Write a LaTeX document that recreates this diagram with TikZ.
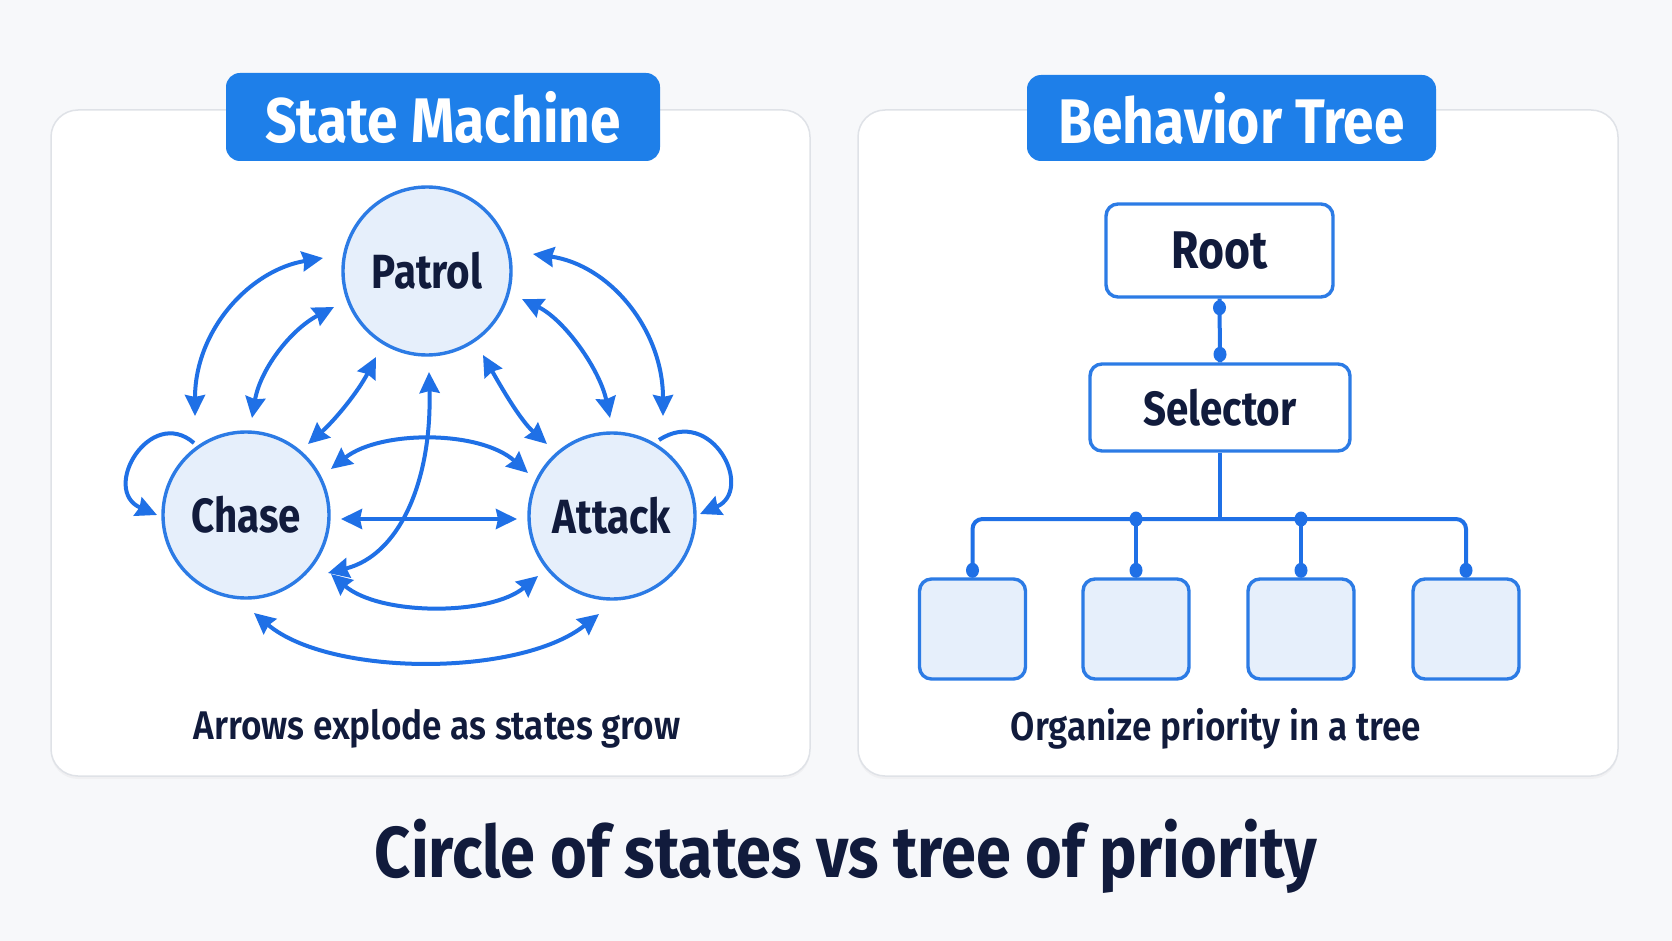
\documentclass[tikz,border=0pt]{standalone}
\usepackage{fontspec}
\setmainfont[FakeStretch=0.84]{Fira Sans}
\newfontfamily\widefont[FakeStretch=0.875]{Fira Sans}
\newfontfamily\medfont[FakeStretch=0.88]{Fira Sans SemiBold}
\usetikzlibrary{arrows.meta,shadows,calc,shapes.geometric}
\definecolor{bgc}{HTML}{F7F8FA}
\definecolor{tabblue}{HTML}{1E7FE9}
\definecolor{lineblue}{HTML}{1F70E6}
\definecolor{edgeblue}{HTML}{2C7BE5}
\definecolor{nodefill}{HTML}{E6EFFB}
\definecolor{navy}{HTML}{111B3C}
\definecolor{panelline}{HTML}{DFE2E7}
\tikzset{
  panel/.style={draw=panelline, line width=1.5pt, fill=white, rounded corners=27pt,
    drop shadow={shadow xshift=0pt, shadow yshift=-3pt, opacity=0.06}},
  tabbox/.style={fill=tabblue, rounded corners=14pt, text=white, inner sep=0pt,
    font=\widefont\bfseries\fontsize{63}{70}\selectfont},
  state/.style={circle, draw=edgeblue, line width=3.4pt, fill=nodefill, minimum size=166pt,
    inner sep=0pt, text=navy, font=\bfseries\fontsize{48}{56}\selectfont},
  btbox/.style={draw=edgeblue, line width=3.4pt, fill=white, rounded corners=12pt, inner sep=0pt,
    text=navy, font=\bfseries\fontsize{50}{58}\selectfont},
  leaf/.style={btbox, fill=nodefill, minimum width=106pt, minimum height=100pt},
  conn/.style={lineblue, line width=4pt},
  tip/.style={},
  arr/.style={conn, {Stealth[length=21pt,width=20pt,inset=2pt]}-{Stealth[length=21pt,width=20pt,inset=2pt]}},
  loop/.style={conn, -{Stealth[length=21pt,width=20pt,inset=2pt]}},
  dotnode/.style={ellipse, fill=lineblue, minimum width=13pt, minimum height=15pt, inner sep=0pt},
  caption/.style={text=navy, font=\medfont\fontsize{40}{48}\selectfont},
}
\begin{document}
\begin{tikzpicture}[x=1pt,y=-1pt]
\useasboundingbox (0,0) rectangle (1672,941);
\fill[bgc] (0,0) rectangle (1672,941);

% panels
\draw[panel] (51,110) rectangle (810,776);
\draw[panel] (858,110) rectangle (1618,776);

% tabs
\node[tabbox, minimum width=434pt, minimum height=88pt] (tabL) at (443,117) {State Machine};
\node[tabbox, minimum width=409pt, minimum height=86pt] (tabR) at (1231.5,118) {Behavior Tree};

% states
\node[state, minimum size=168pt] (patrol) at (427,271) {Patrol};
\node[state] (chase) at (246,515) {Chase};
\node[state] (attack) at (612,516) {Attack};

% arrows
\draw[arr] ($(chase)+(-51,-99)$) .. controls (195,330) and (250,270) .. ($(patrol)+(-104,-13)$);
\draw[arr] ($(chase)+(6,-97)$) .. controls (260,370) and (290,330) .. ($(patrol)+(-93,36)$);
\draw[arr] ($(chase)+(62,-71)$) .. controls (335,420) and (358,392) .. ($(patrol)+(-51,86)$);
\draw[arr] ($(patrol)+(2,101)$) .. controls (432,480) and (400,555) .. ($(chase)+(82,58)$);
\draw[arr] ($(chase)+(85,-46)$) .. controls (380,430) and (480,430) .. ($(attack)+(-84,-43)$);
\draw[arr] ($(chase)+(95,4)$) -- ($(attack)+(-95,3)$);
\draw[arr] ($(chase)+(85,59)$) .. controls (380,616) and (490,616) .. ($(attack)+(-74,60)$);
\draw[arr] ($(chase)+(8,98)$) .. controls (330,677) and (520,677) .. ($(attack)+(-13,98)$);
\draw[arr] ($(patrol)+(56,84)$) .. controls (500,385) and (520,420) .. ($(attack)+(-65,-72)$);
\draw[arr] ($(patrol)+(95,28)$) .. controls (565,320) and (600,370) .. ($(attack)+(-2,-98)$);
\draw[arr] ($(patrol)+(106,-17)$) .. controls (610,265) and (663,330) .. ($(attack)+(51,-100)$);
% self loops
\draw[loop] ($(chase)+(-52,-72)$) .. controls (150,405) and (100,490) .. ($(chase)+(-89,0)$);
\draw[loop] ($(attack)+(47,-76)$) .. controls (712,405) and (755,490) .. ($(attack)+(88,-2)$);

% behavior tree
\node[btbox, minimum width=227pt, minimum height=93pt, font=\bfseries\fontsize{53}{60}\selectfont] (root) at (1219.5,250.5) {Root};
\node[btbox, minimum width=260pt, minimum height=87pt, font=\bfseries\fontsize{48}{56}\selectfont] (sel) at (1220,407.5) {Selector};
\node[leaf] (l1) at (972.5,629) {};
\node[leaf] (l2) at (1136,629) {};
\node[leaf] (l3) at (1301,629) {};
\node[leaf] (l4) at (1466,629) {};
\coordinate (bar) at (1220,519);

\draw[conn] (root.south) -- (sel.north);
\node[dotnode] (d0) at ($(root.south)+(0,9)$) {};
\node[dotnode] (d00) at ($(sel.north)+(0,-8)$) {};
\draw[conn] (sel.south) -- (bar);
\draw[conn, rounded corners=10pt] ($(l1.north)+(0,-7)$) -- (l1.north |- bar) -- (l4.north |- bar) -- ($(l4.north)+(0,-7)$);
\draw[conn] (l2.north |- bar) -- ($(l2.north)+(0,-7)$);
\draw[conn] (l3.north |- bar) -- ($(l3.north)+(0,-7)$);
\node[dotnode] (b2) at (l2.north |- bar) {};
\node[dotnode] (b3) at (l3.north |- bar) {};
\node[dotnode] (t1) at ($(l1.north)+(0,-7)$) {};
\node[dotnode] (t2) at ($(l2.north)+(0,-7)$) {};
\node[dotnode] (t3) at ($(l3.north)+(0,-7)$) {};
\node[dotnode] (t4) at ($(l4.north)+(0,-7)$) {};

% captions
\node[caption] (capL) at (437,729) {Arrows explode as states grow};
\node[caption] (capR) at (1216,729) {Organize priority in a tree};
\node[text=navy, font=\widefont\bfseries\fontsize{72}{80}\selectfont] (title) at (846,856) {Circle of states vs tree of priority};
\end{tikzpicture}
\end{document}
